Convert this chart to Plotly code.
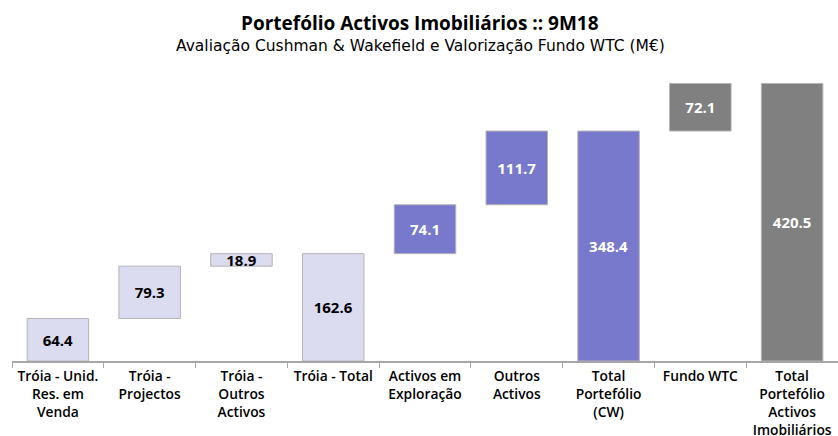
import plotly.graph_objects as go

categories = ["Tróia - Unid.<br>Res. em<br>Venda", "Tróia -<br>Projectos", "Tróia -<br>Outros<br>Activos",
              "Tróia - Total", "Activos em<br>Exploração", "Outros<br>Activos",
              "Total<br>Portefólio<br>(CW)", "Fundo WTC", "Total<br>Portefólio<br>Activos<br>Imobiliários"]
values = [64.4, 79.3, 18.9, 162.6, 74.1, 111.7, 348.4, 72.1, 420.5]
is_total = [False, False, False, True, False, False, True, False, True]
group = ["troia", "troia", "troia", "troia", "cw", "cw", "cw", "wtc", "wtc"]

fill = {"troia": "#DCDCF0", "cw": "#7878CC", "wtc": "#808080"}
txtc = {"troia": "#000000", "cw": "#FFFFFF", "wtc": "#FFFFFF"}

bases = []
run = 0.0
for v, t in zip(values, is_total):
    if t:
        bases.append(0)
        run = v
    else:
        bases.append(run)
        run += v

FONT = "Open Sans"
W, H = 838, 436
ML, MR, MT, MB = 12, 0, 64, 75
PW, PH = W - ML - MR, H - MT - MB

fig = go.Figure(go.Bar(
    x=categories, y=values, base=bases,
    marker=dict(color=[fill[g] for g in group], line=dict(color="#B4B4B4", width=1)),
    text=[f"{v:.1f}" for v in values], textposition="inside", insidetextanchor="middle",
    textangle=0, constraintext="none",
    textfont=dict(family=FONT, size=15, weight="bold", color=[txtc[g] for g in group]),
    width=0.67, hoverinfo="skip",
))

fig.update_layout(
    width=W, height=H, paper_bgcolor="white", plot_bgcolor="white",
    margin=dict(l=ML, r=MR, t=MT, b=MB, autoexpand=False), showlegend=False,
    font=dict(family=FONT, color="#000000"),
    xaxis=dict(showline=True, linecolor="#A6A6A6", linewidth=1.5, ticks="outside", tickson="boundaries",
               ticklen=5, tickcolor="#A6A6A6", tickangle=0, automargin=False, ticklabelstandoff=2,
               tickfont=dict(family=FONT, size=13.8, weight=600, color="#000"),
               showgrid=False),
    yaxis=dict(range=[0, 450], visible=False, showgrid=False),
    annotations=[
        dict(text="<b>Portefólio Activos Imobiliários :: 9M18</b>",
             x=(420 - ML) / PW, y=(H - MB - 23) / PH, xref="paper", yref="paper",
             showarrow=False, font=dict(family=FONT, size=19, color="#000"), yanchor="middle", xanchor="center"),
        dict(text="Avaliação Cushman & Wakefield e Valorização Fundo WTC (M€)",
             x=(420 - ML) / PW, y=(H - MB - 46) / PH, xref="paper", yref="paper",
             showarrow=False, font=dict(family="DejaVu Sans", size=15.5, color="#000"), yanchor="middle", xanchor="center"),
    ],
)

fig.write_html("out.html", config={"displayModeBar": False},
               post_script="document.body.style.margin='0';")
